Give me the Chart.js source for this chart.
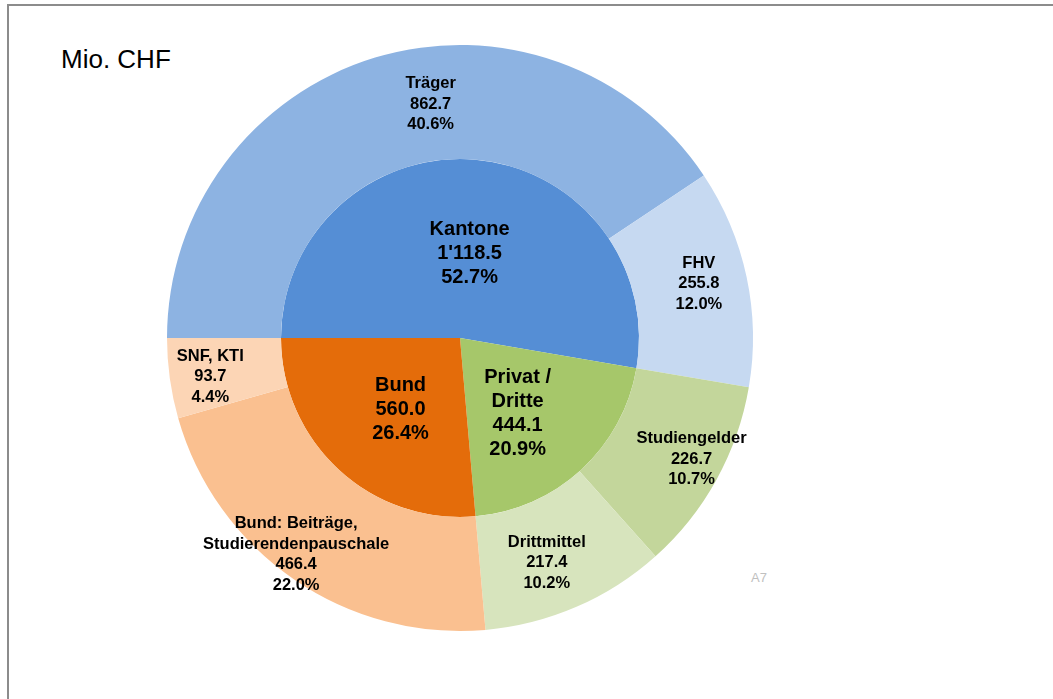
<!DOCTYPE html>
<html>
<head>
<meta charset="utf-8">
<script src="https://cdn.jsdelivr.net/npm/chart.js@4"></script>
<style>
  html, body { margin:0; padding:0; background:#fff; width:1053px; height:699px; overflow:hidden; }
  #frame { position:absolute; left:7px; top:4px; width:1046px; height:695px; border-top:2px solid #8c8c8c; border-left:2px solid #8c8c8c; }
  #title { position:absolute; left:61px; top:44px; font-family:"Liberation Sans", Arial, sans-serif; font-size:26px; color:#000; line-height:30px; }
  #a7 { position:absolute; left:751px; top:570px; font-family:"Liberation Sans", Arial, sans-serif; font-size:13px; color:#c0c0c0; }
  #wrap { position:absolute; left:160px; top:38px; width:600px; height:600px; }
</style>
</head>
<body>
<div id="frame"></div>
<div id="title">Mio. CHF</div>
<div id="a7">A7</div>
<div id="wrap"><canvas id="c" width="600" height="600"></canvas></div>
<script>
// Inner ring (groups)
const innerLabels = [['Kantone'], ['Privat /', 'Dritte'], ['Bund']];
const innerValues = [1118.5, 444.1, 560.0];
const innerShares = [52.7, 20.9, 26.4];
const innerColors = ['#558ED5', '#A6C76A', '#E46C0A'];

// Outer ring (details)
const outerLabels = [['Träger'], ['FHV'], ['Studiengelder'], ['Drittmittel'], ['Bund: Beiträge,', 'Studierendenpauschale'], ['SNF, KTI']];
const outerValues = [862.7, 255.8, 226.7, 217.4, 466.4, 93.7];
const outerShares = [40.6, 12.0, 10.7, 10.2, 22.0, 4.4];
const outerColors = ['#8DB3E2', '#C6D9F1', '#C3D69B', '#D7E4BD', '#FAC090', '#FCD5B5'];

// label placement nudges (pixels) relative to arc centroid
const outerNudge = [[39,-8],[8,-5],[25,7],[-7,8],[-30,22],[-16,6]];
const innerNudge = [[2,5],[-3,10],[1,6]];

function fmtValue(v) {
  const s = v.toFixed(1);
  const [ip, dp] = s.split('.');
  return ip.replace(/\B(?=(\d{3})+(?!\d))/g, "'") + '.' + dp;
}

const labelPlugin = {
  id: 'sliceLabels',
  afterDatasetsDraw(chart) {
    const ctx = chart.ctx;
    chart.data.datasets.forEach((ds, di) => {
      const meta = chart.getDatasetMeta(di);
      meta.data.forEach((arc, i) => {
        const p = arc.getProps(['x','y','startAngle','endAngle','innerRadius','outerRadius'], true);
        const mid = (p.startAngle + p.endAngle) / 2;
        const r = (p.innerRadius + p.outerRadius) / 2;
        const n = ds.nudge[i];
        const cx = p.x + Math.cos(mid) * r + n[0];
        const cy = p.y + Math.sin(mid) * r + n[1];
        const lines = ds.names[i].concat([fmtValue(ds.data[i]), ds.shares[i].toFixed(1) + '%']);
        ctx.save();
        ctx.font = 'bold ' + ds.fontSize + 'px "Liberation Sans", Arial, sans-serif';
        ctx.fillStyle = '#000';
        ctx.textAlign = 'center';
        ctx.textBaseline = 'middle';
        lines.forEach((t, k) => {
          ctx.fillText(t, cx, cy + (k - (lines.length - 1) / 2) * ds.lineHeight);
        });
        ctx.restore();
      });
    });
  }
};

new Chart(document.getElementById('c'), {
  type: 'doughnut',
  data: {
    labels: outerLabels.map(l => l.join(' ')),
    datasets: [
      { data: outerValues, backgroundColor: outerColors, borderWidth: 0, weight: 114,
        names: outerLabels, shares: outerShares, nudge: outerNudge, fontSize: 16.5, lineHeight: 20.5 },
      { data: innerValues, backgroundColor: innerColors, borderWidth: 0, weight: 179,
        names: innerLabels, shares: innerShares, nudge: innerNudge, fontSize: 20, lineHeight: 24 }
    ]
  },
  options: {
    responsive: false,
    animation: false,
    cutout: 0,
    radius: 293,
    rotation: 270,
    layout: { padding: 0 },
    plugins: { legend: { display: false }, tooltip: { enabled: false } }
  },
  plugins: [labelPlugin]
});
</script>
</body>
</html>
